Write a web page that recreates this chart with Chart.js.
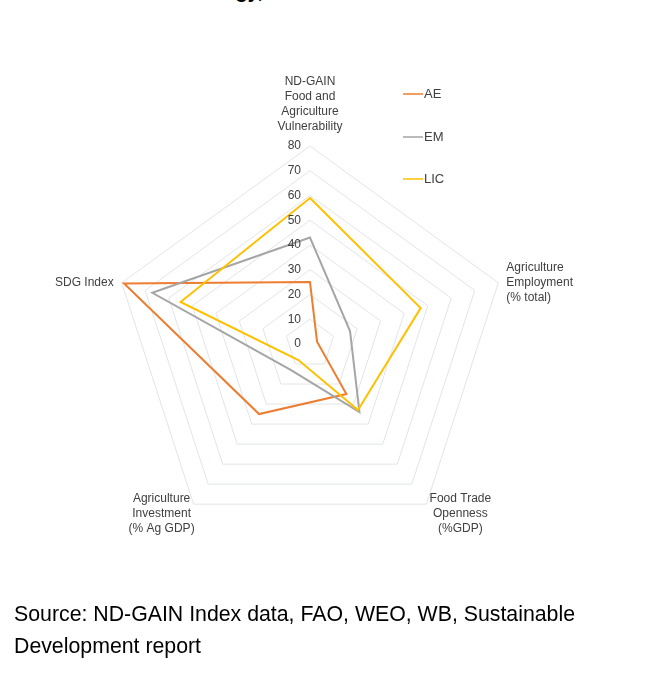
<!DOCTYPE html>
<html lang="en">
<head>
  <meta charset="UTF-8">
  <title>Food and Agriculture Radar</title>
  <style>
    body {
      margin: 0;
      background-color: #fff;
      font-family: "Liberation Sans", Arial, sans-serif;
    }
    .page {
      position: relative;
      width: 650px;
      height: 683px;
      overflow: hidden;
    }
    .title {
      position: absolute;
      right: 387px;
      top: -19px;
      font-size: 20px;
      line-height: 20px;
      font-weight: bold;
      color: #000;
      white-space: nowrap;
    }
    .chart-box {
      position: absolute;
      left: 0;
      top: 0;
      width: 650px;
      height: 683px;
    }
    .source {
      position: absolute;
      left: 14px;
      top: 598px;
      font-size: 21.3px;
      line-height: 32px;
      color: #000;
    }
  </style>
  <script src="https://cdn.jsdelivr.net/npm/chart.js"></script>
</head>
<body>
<div class="page">
  <div class="title">Technology,</div>
  <div class="chart-box"><canvas id="radarChart"></canvas></div>
  <div class="source">Source: ND-GAIN Index data, FAO, WEO, WB, Sustainable<br>Development report</div>
</div>

<script>
  // Ejes del radar (en el sentido de las agujas del reloj desde arriba)
  const ejes = [
    ['ND-GAIN', 'Food and', 'Agriculture', 'Vulnerability'],
    ['Agriculture', 'Employment', '(% total)'],
    ['Food Trade', 'Openness', '(%GDP)'],
    ['Agriculture', 'Investment', '(% Ag GDP)'],
    ['SDG Index']
  ];

  // Valores por grupo de países
  const valoresAE = [25, 3, 25, 35, 79];
  const valoresEM = [43, 17, 34, 13, 67];
  const valoresLIC = [59, 47, 33, 8, 55];

  const series = ['AE', 'EM', 'LIC'];
  const colores = ['#ED7D31', '#A5A5A5', '#FFC000'];

  // Etiquetas del eje radial
  const marcas = [0, 10, 20, 30, 40, 50, 60, 70, 80];

  const colorTexto = '#404040';

  // Etiquetas del eje radial dibujadas a la izquierda del eje superior
  const marcasPlugin = {
    id: 'marcas',
    afterDraw(chart) {
      const r = chart.scales.r;
      const ctx = chart.ctx;
      ctx.save();
      ctx.font = '12px "Liberation Sans", Arial, sans-serif';
      ctx.fillStyle = colorTexto;
      ctx.textAlign = 'right';
      ctx.textBaseline = 'middle';
      marcas.forEach(v => {
        const d = r.getDistanceFromCenterForValue(v);
        ctx.fillText(String(v), r.xCenter - 9, r.yCenter - d);
      });
      ctx.restore();
    }
  };

  // Nombres de los ejes
  const ejesPlugin = {
    id: 'ejes',
    afterDraw(chart) {
      const r = chart.scales.r;
      const ctx = chart.ctx;
      const alto = 15;
      // desplazamientos de cada etiqueta respecto al vértice exterior
      const ajustes = [
        { align: 'center', dx: 0, dy: -12, v: 'bottom' },
        { align: 'left', dx: 8, dy: 0, v: 'middle' },
        { align: 'center', dx: 34, dy: 10, v: 'middle' },
        { align: 'center', dx: -32, dy: 10, v: 'middle' },
        { align: 'right', dx: -8, dy: 0, v: 'middle' }
      ];
      ctx.save();
      ctx.font = '12px "Liberation Sans", Arial, sans-serif';
      ctx.fillStyle = colorTexto;
      ctx.textBaseline = 'middle';
      ejes.forEach((lineas, i) => {
        const p = r.getPointPosition(i, r.drawingArea);
        const a = ajustes[i];
        let y0;
        if (a.v === 'bottom') {
          y0 = p.y + a.dy - (lineas.length - 1) * alto - alto / 2;
        } else {
          y0 = p.y + a.dy - (lineas.length - 1) * alto / 2;
        }
        ctx.textAlign = a.align;
        lineas.forEach((t, k) => {
          ctx.fillText(t, p.x + a.dx, y0 + k * alto);
        });
      });
      ctx.restore();
    }
  };

  // Leyenda vertical arriba a la derecha
  const leyendaPlugin = {
    id: 'leyenda',
    afterDraw(chart) {
      const ctx = chart.ctx;
      const posY = [94, 137, 179];
      ctx.save();
      ctx.font = '13px "Liberation Sans", Arial, sans-serif';
      ctx.textAlign = 'left';
      ctx.textBaseline = 'middle';
      chart.data.datasets.forEach((ds, i) => {
        ctx.strokeStyle = ds.borderColor;
        ctx.lineWidth = 1.5;
        ctx.beginPath();
        ctx.moveTo(403, posY[i]);
        ctx.lineTo(423, posY[i]);
        ctx.stroke();
        ctx.fillStyle = colorTexto;
        ctx.fillText(ds.label, 424, posY[i]);
      });
      ctx.restore();
    }
  };

  const valores = [valoresAE, valoresEM, valoresLIC];

  const datos = {
    labels: ejes.map(e => e.join(' ')),
    datasets: series.map((s, i) => ({
      label: s,
      data: valores[i],
      borderColor: colores[i],
      backgroundColor: colores[i],
      borderWidth: 2,
      pointRadius: 0,
      fill: false,
      order: series.length - i
    }))
  };

  const config = {
    type: 'radar',
    data: datos,
    options: {
      responsive: true,
      maintainAspectRatio: false,
      animation: false,
      layout: {
        padding: { left: 112, right: 142, top: 146, bottom: 141 }
      },
      plugins: {
        legend: { display: false },
        tooltip: { enabled: false },
        title: { display: false }
      },
      scales: {
        r: {
          min: 0,
          max: 80,
          ticks: { display: false, stepSize: 10 },
          pointLabels: { display: false },
          angleLines: { display: false },
          grid: { color: '#e1e4e8', lineWidth: 1 }
        }
      }
    },
    plugins: [marcasPlugin, ejesPlugin, leyendaPlugin]
  };

  new Chart(document.getElementById('radarChart').getContext('2d'), config);
</script>
</body>
</html>
